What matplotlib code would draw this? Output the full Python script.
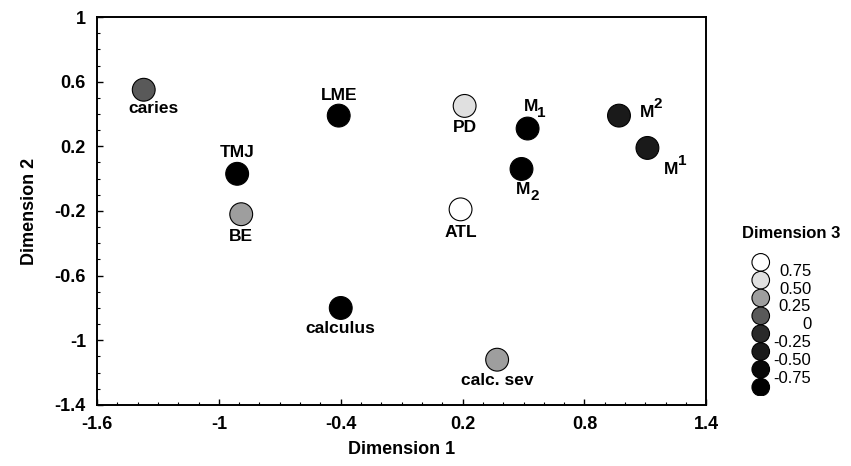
import numpy as np
import matplotlib.pyplot as plt

plt.rcParams['font.family'] = ['Liberation Sans', 'DejaVu Sans']

# points MDS (dimension 1, 2, 3)
labels = ["caries", "LME", "TMJ", "BE", "calculus", "PD", "ATL",
          "M", "M", "M", "M", "calc. sev"]
# indice / exposant des molaires
idx = ["", "", "", "", "", "", "", "1", "2", "2", "1", ""]
idx_dy = [0, 0, 0, 0, 0, 0, 0, -6, -6, 9, 9, 0]
dim1 = [-1.37, -0.41, -0.91, -0.89, -0.40, 0.21, 0.19, 0.52, 0.49, 0.97, 1.11, 0.37]
dim2 = [0.55, 0.39, 0.03, -0.22, -0.80, 0.45, -0.19, 0.31, 0.06, 0.39, 0.19, -1.12]
dim3 = [0.25, -0.75, -0.75, 0.50, -0.75, 0.75, 1.0, -0.75, -0.75, -0.25, -0.25, 0.50]
# decalage des etiquettes (pixels)
lab_dx = [10, 0, 0, 0, 0, 0, 0, 3, 2, 28, 24, 0]
lab_dy = [-19, 20, 21, -22, -21, -22, -23, 22, -21, 3, -22, -21]

# legende dimension 3
leg_vals = [1.0, 0.75, 0.50, 0.25, 0.0, -0.25, -0.50, -0.75]
leg_text = ["0.75", "0.50", "0.25", "0", "-0.25", "-0.50", "-0.75"]

xticks = [-1.6, -1, -0.4, 0.2, 0.8, 1.4]
yticks = [1, 0.6, 0.2, -0.2, -0.6, -1, -1.4]


def gray(v):
    # 1 -> blanc, -0.75 -> noir
    g = np.interp(v, [-0.75, -0.5, -0.25, 0, 0.25, 0.5, 0.75, 1.0],
                  [0.0, 0.03, 0.1, 0.16, 0.35, 0.62, 0.88, 1.0])
    return (g, g, g)


fig = plt.figure(figsize=(8.51, 4.66), dpi=100)
ax = fig.add_axes([0.114, 0.131, 0.716, 0.8325])

ax.scatter(dim1, dim2, s=270, c=[gray(v) for v in dim3], edgecolors='black',
           linewidths=0.8, zorder=3)
for x, y, t, dx, dy, k, kdy in zip(dim1, dim2, labels, lab_dx, lab_dy, idx, idx_dy):
    ax.annotate(t, (x, y), xytext=(dx, dy), textcoords='offset pixels',
                ha='center', va='center', fontsize=12.5, fontweight='bold')
    if k:
        ax.annotate(k, (x, y), xytext=(dx + 11, dy + kdy), textcoords='offset pixels',
                    ha='center', va='center', fontsize=11, fontweight='bold')

ax.set_xlim(-1.6, 1.4)
ax.set_ylim(-1.4, 1.0)
ax.set_xticks(xticks)
ax.set_xticklabels([f"{v:g}" for v in xticks])
ax.set_yticks(yticks)
ax.set_yticklabels([f"{v:g}" for v in yticks])
ax.set_xticks(np.arange(-1.6, 1.41, 0.1), minor=True)
ax.set_yticks(np.arange(-1.4, 1.01, 0.1), minor=True)
ax.tick_params(which='both', direction='in', top=False, right=False)
ax.tick_params(which='major', length=4, width=1, labelsize=13, pad=8)
ax.tick_params(which='minor', length=2.5, width=0.8)
for lbl in ax.get_xticklabels() + ax.get_yticklabels():
    lbl.set_fontweight('bold')
for sp in ax.spines.values():
    sp.set_linewidth(1.4)
ax.set_xlabel("Dimension 1", fontsize=13, fontweight='bold', labelpad=6)
ax.set_ylabel("Dimension 2", fontsize=13, fontweight='bold', labelpad=12)

# legende
lax = fig.add_axes([0.875, 0.15, 0.09, 0.31])
pos = np.arange(len(leg_vals))
lax.scatter(np.zeros(len(pos)), pos, s=160, c=[gray(v) for v in leg_vals],
            edgecolors='black', linewidths=0.8)
for i, t in enumerate(leg_text):
    lax.text(1.25, i + 0.5, t, ha='right', va='center', fontsize=12)
lax.set_xlim(-0.4, 1.5)
lax.set_ylim(len(pos) - 0.5, -0.6)
lax.axis('off')
fig.text(0.93, 0.50, "Dimension 3", ha='center', va='center',
         fontsize=12, fontweight='bold')

fig.savefig("out.png", dpi=100)
